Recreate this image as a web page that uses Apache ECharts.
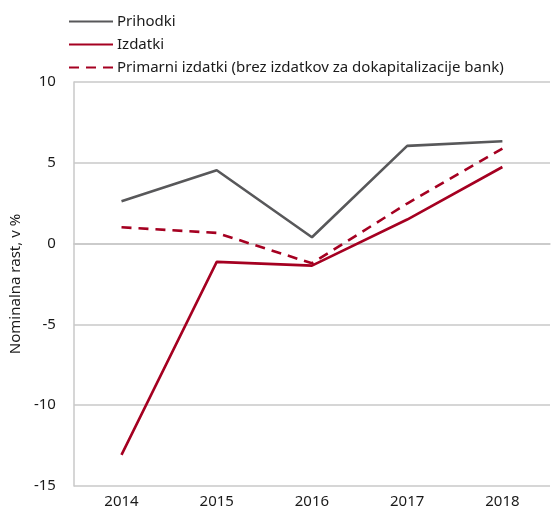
<!DOCTYPE html>
<html>
<head>
<meta charset="utf-8">
<script src="https://cdn.jsdelivr.net/npm/echarts@6/dist/echarts.min.js"></script>
<style>
  html, body { margin: 0; padding: 0; background: #fff; }
  #chart { width: 551px; height: 511px; }
</style>
</head>
<body>
<div id="chart"></div>
<script>
const years = ['2014', '2015', '2016', '2017', '2018'];
const prihodki = [2.62, 4.54, 0.39, 6.05, 6.33];
const izdatki = [-13.07, -1.13, -1.36, 1.49, 4.74];
const primarni = [1.01, 0.66, -1.22, 2.48, 5.88];

const font = 'Noto Sans';
const grey = '#58585a';
const red = '#a50021';

const chart = echarts.init(document.getElementById('chart'), null, { renderer: 'canvas' });

chart.setOption({
  animation: false,
  textStyle: { fontFamily: font },
  legend: {
    orient: 'vertical',
    left: 63,
    top: 9,
    itemWidth: 44,
    itemHeight: 14,
    itemGap: 8,
    itemStyle: { opacity: 0 },
    textStyle: { fontFamily: font, fontSize: 15, color: '#1a1a1a', padding: [0, 0, 0, -1] },
    data: ['Prihodki', 'Izdatki', 'Primarni izdatki (brez izdatkov za dokapitalizacije bank)']
  },
  grid: { left: 71, right: 1, top: 82, bottom: 25, containLabel: false },
  xAxis: {
    type: 'category',
    data: years,
    boundaryGap: true,
    axisLine: { lineStyle: { color: '#c8c8c8', width: 1.5 } },
    axisTick: { show: false },
    axisLabel: { fontFamily: font, fontSize: 15, color: '#1a1a1a', margin: 8 }
  },
  yAxis: {
    type: 'value',
    min: -15,
    max: 10,
    interval: 5,
    name: 'Nominalna rast, v %',
    nameLocation: 'middle',
    nameGap: 50,
    nameTextStyle: { fontFamily: font, fontSize: 15, color: '#1a1a1a' },
    axisLine: { show: true, lineStyle: { color: '#c8c8c8', width: 1.5 } },
    axisTick: { show: false },
    splitLine: { lineStyle: { color: '#c8c8c8', width: 1.5 } },
    axisLabel: { fontFamily: font, fontSize: 15, color: '#1a1a1a', margin: 18 }
  },
  series: [
    {
      name: 'Prihodki',
      type: 'line',
      data: prihodki,
      symbol: 'none',
      lineStyle: { color: grey, width: 2.6 },
      itemStyle: { color: grey }
    },
    {
      name: 'Izdatki',
      type: 'line',
      data: izdatki,
      symbol: 'none',
      lineStyle: { color: red, width: 2.6 },
      itemStyle: { color: red }
    },
    {
      name: 'Primarni izdatki (brez izdatkov za dokapitalizacije bank)',
      type: 'line',
      data: primarni,
      symbol: 'none',
      lineStyle: { color: red, width: 2.6, type: [10, 7] },
      itemStyle: { color: red }
    }
  ]
});
</script>
</body>
</html>
